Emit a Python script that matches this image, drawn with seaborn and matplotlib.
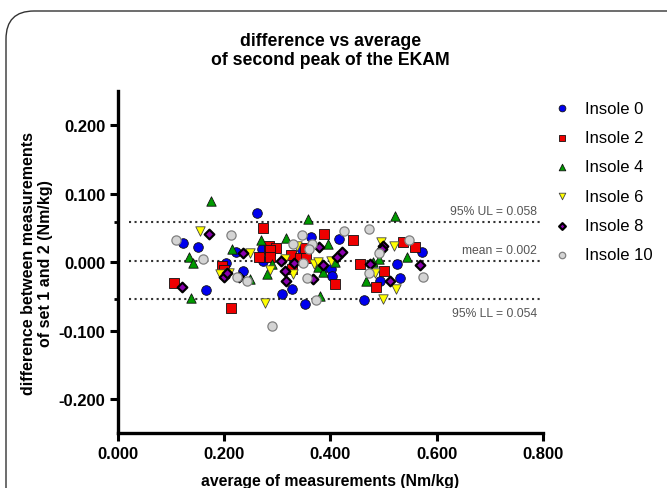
import numpy as np
import pandas as pd
import seaborn as sns
from matplotlib import pyplot as plt
from matplotlib.patches import FancyBboxPatch
from matplotlib.ticker import FormatStrFormatter

# average (x) and difference (y) per insole
insole0_x = [0.122, 0.150, 0.223, 0.204, 0.166, 0.262, 0.364, 0.417, 0.272, 0.346, 0.274, 0.387,
             0.402, 0.404, 0.236, 0.328, 0.309, 0.353, 0.464, 0.573, 0.525, 0.494, 0.531]
insole0_y = [0.028, 0.022, 0.015, -0.001, -0.040, 0.072, 0.037, 0.034, 0.019, 0.017, 0.002, -0.008,
             -0.010, -0.020, -0.013, -0.039, -0.047, -0.061, -0.055, 0.015, -0.002, -0.027, -0.023]

insole2_x = [0.196, 0.199, 0.106, 0.213, 0.273, 0.389, 0.442, 0.285, 0.297, 0.286, 0.353, 0.265,
             0.286, 0.326, 0.343, 0.354, 0.328, 0.409, 0.456, 0.536, 0.560, 0.501, 0.486]
insole2_y = [-0.005, -0.012, -0.030, -0.067, 0.050, 0.041, 0.033, 0.024, 0.021, 0.018, 0.021, 0.007,
             0.008, 0.011, 0.006, 0.006, -0.010, -0.032, -0.002, 0.029, 0.022, -0.013, -0.036]

insole4_x = [0.175, 0.215, 0.133, 0.142, 0.138, 0.358, 0.316, 0.270, 0.396, 0.290, 0.376, 0.408,
             0.280, 0.386, 0.249, 0.380, 0.467, 0.522, 0.544, 0.492, 0.481]
insole4_y = [0.089, 0.019, 0.007, -0.001, -0.053, 0.063, 0.035, 0.033, 0.027, -0.002, -0.007, 0.000,
             -0.018, -0.015, -0.025, -0.050, -0.028, 0.068, 0.007, 0.005, 0.000]

insole6_x = [0.154, 0.193, 0.210, 0.337, 0.249, 0.315, 0.370, 0.377, 0.402, 0.286, 0.329, 0.277,
             0.495, 0.519, 0.484, 0.524, 0.499]
insole6_y = [0.046, -0.017, -0.016, 0.024, 0.013, 0.004, -0.002, 0.000, 0.001, -0.012, -0.017, -0.060,
             0.029, 0.024, -0.016, -0.039, -0.054]

insole8_x = [0.172, 0.199, 0.205, 0.120, 0.378, 0.236, 0.422, 0.412, 0.307, 0.332, 0.387, 0.315,
             0.228, 0.367, 0.316, 0.500, 0.497, 0.475, 0.569, 0.513]
insole8_y = [0.041, -0.021, -0.016, -0.037, 0.022, 0.013, 0.015, 0.008, 0.002, -0.001, -0.004, -0.013,
             -0.022, -0.025, -0.028, 0.024, 0.019, -0.002, -0.004, -0.027]

insole10_x = [0.213, 0.110, 0.161, 0.224, 0.347, 0.426, 0.329, 0.365, 0.360, 0.349, 0.243, 0.356,
              0.373, 0.291, 0.472, 0.492, 0.549, 0.575, 0.473]
insole10_y = [0.039, 0.033, 0.004, -0.021, 0.040, 0.046, 0.027, 0.027, 0.019, -0.001, -0.028, -0.023,
              -0.055, -0.094, 0.049, 0.013, 0.032, -0.021, -0.016]

upper_limit = 0.058
mean_diff = 0.002
lower_limit = -0.054

groups = ['Insole 0', 'Insole 2', 'Insole 4', 'Insole 6', 'Insole 8', 'Insole 10']
xs = [insole0_x, insole2_x, insole4_x, insole6_x, insole8_x, insole10_x]
ys = [insole0_y, insole2_y, insole4_y, insole6_y, insole8_y, insole10_y]

df = pd.concat([pd.DataFrame({'avg': x, 'diff': y, 'insole': g}) for g, x, y in zip(groups, xs, ys)])

# marker, face colour, edge colour, size, edge width
styles = {
    'Insole 0': ('o', '#0000ee', '#111111', 48, 0.6),
    'Insole 2': ('s', '#ee0000', '#111111', 46, 0.6),
    'Insole 4': ('^', '#009a00', '#111111', 46, 0.6),
    'Insole 6': ('v', '#ffff00', '#444444', 46, 0.6),
    'Insole 8': ('D', '#8a00b0', '#000000', 24, 1.6),
    'Insole 10': ('o', '#d4d4d4', '#808080', 44, 0.9),
}

sns.set_style('ticks')
plt.rcParams['font.family'] = ['Liberation Sans', 'DejaVu Sans']
plt.rcParams['text.color'] = 'black'
plt.rcParams['axes.labelcolor'] = 'black'
plt.rcParams['axes.edgecolor'] = 'black'
plt.rcParams['xtick.color'] = 'black'
plt.rcParams['ytick.color'] = 'black'

fig = plt.figure(figsize=(6.67, 4.89), dpi=100)
ax = fig.add_axes([0.1769, 0.1119, 0.6367, 0.700])

for g in groups:
    m, fc, ec, s, lw = styles[g]
    sub = df[df['insole'] == g]
    sns.scatterplot(data=sub, x='avg', y='diff', ax=ax, marker=m, color=fc,
                    edgecolor=ec, linewidth=lw, s=s, label=g, zorder=3)

for yv in [upper_limit, mean_diff, lower_limit]:
    ax.hlines(yv, 0.02, 0.8, colors='#333333', linestyles=':', linewidth=1.5, zorder=2)

txt = dict(ha='right', va='center', fontsize=8.7, color='#555555')
ax.text(0.789, 0.074, '95% UL = 0.058', **txt)
ax.text(0.789, 0.018, 'mean = 0.002', **txt)
ax.text(0.789, -0.075, '95% LL = 0.054', **txt)

ax.set_xlim(0, 0.8)
ax.set_ylim(-0.25, 0.25)
ax.set_xticks([0, 0.2, 0.4, 0.6, 0.8])
ax.set_yticks([-0.2, -0.1, 0, 0.1, 0.2])
ax.set_yticks([lower_limit, upper_limit], minor=True)
ax.xaxis.set_major_formatter(FormatStrFormatter('%.3f'))
ax.yaxis.set_major_formatter(FormatStrFormatter('%.3f'))
ax.tick_params(which='major', length=6, width=2.2, labelsize=12, pad=3)
ax.tick_params(axis='y', which='minor', length=3, width=2)
for lab in ax.get_xticklabels() + ax.get_yticklabels():
    lab.set_fontweight('bold')
sns.despine(ax=ax)
for sp in ['left', 'bottom']:
    ax.spines[sp].set_linewidth(2.4)

ax.set_xlabel('average of measurements (Nm/kg)', fontsize=11.3, fontweight='bold', labelpad=9)
ax.set_ylabel('difference between measurements\nof set 1 and 2 (Nm/kg)', fontsize=11.5,
              fontweight='bold', labelpad=4, linespacing=1.15)
ax.set_title('difference vs average\nof second peak of the EKAM', fontsize=12.7,
             fontweight='bold', pad=19.5, linespacing=1.15)

ax.legend(loc='upper left', bbox_to_anchor=(0.830, 0.792), bbox_transform=fig.transFigure,
          frameon=False, fontsize=12, markerscale=0.7, handlelength=1.0, handletextpad=0.9,
          labelspacing=0.86, borderaxespad=0, borderpad=0)

# rounded frame around the whole panel (display pixels, origin bottom-left)
frame = FancyBboxPatch((6, -60), 700, 537, boxstyle='round,pad=0,rounding_size=28',
                       transform=None, fill=False, edgecolor='#333333', linewidth=1.0)
fig.patches.append(frame)

fig.savefig('out.png', dpi=100)
